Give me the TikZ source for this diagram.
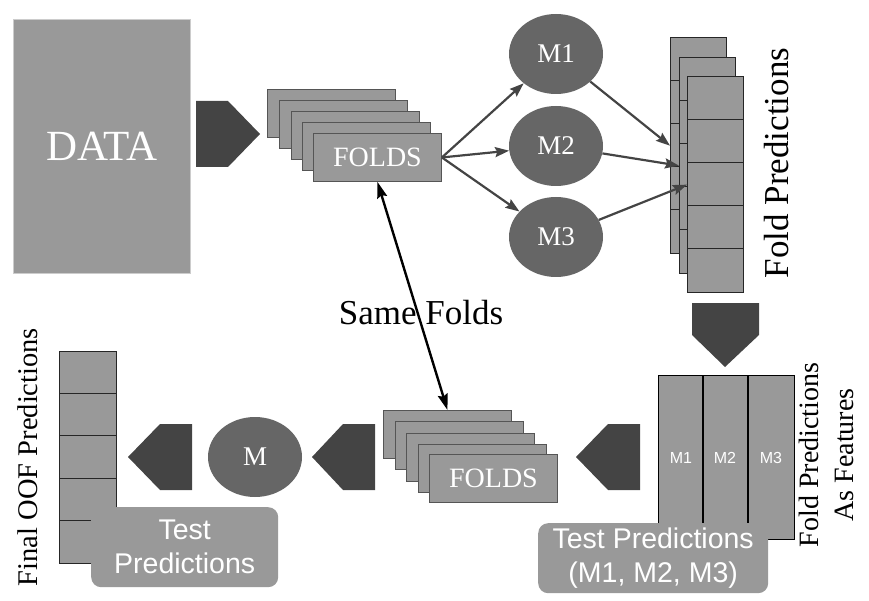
\documentclass[tikz,border=0pt]{standalone}
\usepackage{fontspec}
\setmainfont{Liberation Serif}
\setsansfont{Liberation Sans}
\usetikzlibrary{arrows.meta,shapes.geometric,calc}
\definecolor{boxgray}{HTML}{999999}
\definecolor{ellgray}{HTML}{666666}
\definecolor{pentgray}{HTML}{444444}
\definecolor{edgegray}{HTML}{555555}
\begin{document}
\begin{tikzpicture}[x=1pt,y=-1pt,
  foldbox/.style={draw=edgegray, fill=boxgray, line width=0.9pt, minimum width=128pt, minimum height=48pt, inner sep=0pt, anchor=north west, text=white, font=\fontsize{28}{30}\selectfont},
  colbox/.style={draw=black!85, fill=boxgray, line width=1.3pt, minimum width=56pt, minimum height=216pt, inner sep=0pt, anchor=north west},
  model/.style={ellipse, fill=ellgray, minimum width=94pt, minimum height=80pt, inner sep=0pt, text=white, font=\fontsize{27}{30}\selectfont},
  pent/.style={fill=pentgray, draw=none},
  testbox/.style={fill=boxgray, rounded corners=10pt, inner sep=0pt, anchor=north west, align=center, text=white, font=\sffamily\fontsize{28.5}{34}\selectfont},
  modelarrow/.style={-{Stealth[length=14pt,width=10pt,inset=2pt]}, draw=pentgray, line width=2.2pt},
  samearrow/.style={{Stealth[length=16pt,width=10pt,inset=2pt]}-{Stealth[length=16pt,width=10pt,inset=2pt]}, draw=black, line width=2.4pt},
  rotlabel/.style={rotate=90, inner sep=0pt, align=center},
  smalllab/.style={text=white, font=\sffamily\fontsize{16}{18}\selectfont}
]
\useasboundingbox (0,0) rectangle (869,601);

% DATA
\node[fill=boxgray, draw=black!20, line width=0.5pt, minimum width=177pt, minimum height=254pt, inner sep=0pt, anchor=north west, text=white, font=\fontsize{43}{48}\selectfont] (data) at (13,19) {DATA};

% right pentagon
\path[pent] (196,101) -- (228,101) -- (260,134) -- (228,167) -- (196,167) -- cycle;

% top folds stack
\node[foldbox] (f1) at (267,89) {};
\node[foldbox] (f2) at (279,100) {};
\node[foldbox] (f3) at (291,111) {};
\node[foldbox] (f4) at (302,122) {};
\node[foldbox] (f5) at (313,133) {FOLDS};

% models
\node[model] (m1) at (556,54) {M1};
\node[model] (m2) at (556,146) {M2};
\node[model] (m3) at (556,237) {M3};

% fold prediction columns
\node[colbox] (ca) at (670,37) {};
\foreach \k in {1,...,4} \draw[black!85, line width=1.3pt] ($(ca.north west)+(0,43.2*\k)$) -- ($(ca.north east)+(0,43.2*\k)$);
\node[colbox] (cb) at (679,57) {};
\foreach \k in {1,...,4} \draw[black!85, line width=1.3pt] ($(cb.north west)+(0,43.2*\k)$) -- ($(cb.north east)+(0,43.2*\k)$);
\node[colbox] (cc) at (687,76) {};
\foreach \k in {1,...,4} \draw[black!85, line width=1.3pt] ($(cc.north west)+(0,43.2*\k)$) -- ($(cc.north east)+(0,43.2*\k)$);

\node[rotlabel, font=\fontsize{35}{40}\selectfont] (fp) at (777,163) {Fold Predictions};

% arrows folds -> models -> columns
\draw[modelarrow] (f5.east) -- (m1);
\draw[modelarrow] (f5.east) -- (m2);
\draw[modelarrow] (f5.east) -- (m3);
\draw[modelarrow] (m1) -- (ca.west);
\draw[modelarrow] (m2) -- (cb.west);
\draw[modelarrow] (m3) -- (cc.west);

% down pentagon
\path[pent] (692,303) -- (759,303) -- (759,335) -- (725,367) -- (692,335) -- cycle;

% features box
\node[draw=black, fill=boxgray, line width=1.3pt, minimum width=136pt, minimum height=164pt, inner sep=0pt, anchor=north west] (feat) at (658,375) {};
\draw[black, line width=1.3pt] (703,375) -- (703,539);
\draw[black, line width=1.3pt] (748,375) -- (748,539);
\node[smalllab] (l1) at (681,458) {M1};
\node[smalllab] (l2) at (725,458) {M2};
\node[smalllab] (l3) at (771,458) {M3};
\node[rotlabel, font=\fontsize{28}{35}\selectfont] (fpaf) at (826,455) {Fold Predictions\\As Features};

\node[testbox, minimum width=230pt, minimum height=70pt] (tp3) at (538,523) {Test Predictions\\(M1, M2, M3)};

% left pentagons
\path[pent] (640,424) -- (608,424) -- (576,457) -- (608,490) -- (640,490) -- cycle;
\path[pent] (375,424) -- (343,424) -- (312,457) -- (343,490) -- (375,490) -- cycle;
\path[pent] (192,424) -- (160,424) -- (128,457) -- (160,490) -- (192,490) -- cycle;

% bottom folds stack
\node[foldbox] (b1) at (383,410) {};
\node[foldbox] (b2) at (395,421) {};
\node[foldbox] (b3) at (406,433) {};
\node[foldbox] (b4) at (418,444) {};
\node[foldbox] (b5) at (429,454) {FOLDS};

% meta model
\node[model, font=\fontsize{27}{30}\selectfont] (mm) at (255,457) {M};

% final OOF column
\node[draw=black!85, fill=boxgray, line width=1.3pt, minimum width=57pt, minimum height=212pt, inner sep=0pt, anchor=north west] (oof) at (59,351) {};
\foreach \k in {1,...,4} \draw[black!85, line width=1.3pt] ($(oof.north west)+(0,42.4*\k)$) -- ($(oof.north east)+(0,42.4*\k)$);
\node[testbox, minimum width=187pt, minimum height=80pt] (tp) at (91,507) {Test\\Predictions};
\node[rotlabel, font=\fontsize{28.5}{32}\selectfont] (foof) at (28,457) {Final OOF Predictions};

% same folds
\node[font=\fontsize{35}{40}\selectfont, inner sep=0pt] (same) at (421,313) {Same Folds};
\draw[samearrow] (f5.south) -- (b1.north);
\end{tikzpicture}
\end{document}
